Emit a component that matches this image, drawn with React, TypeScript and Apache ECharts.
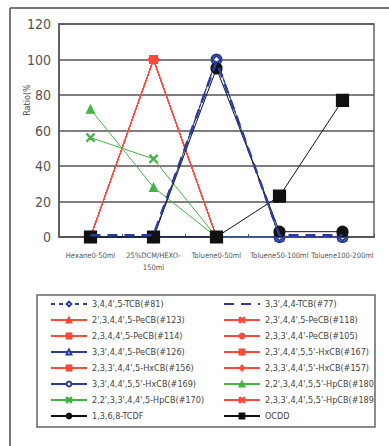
import React, { useEffect, useRef } from 'react';
import * as echarts from 'echarts';

const categories = ['Hexane0-50ml', '25%DCM/HEXO-\n150ml', 'Toluene0-50ml', 'Toluene50-100ml', 'Toluene100-200ml'];
const yTicks = [0, 20, 40, 60, 80, 100, 120];

const tcb81 = [0, 0, 100, 0, 0];
const tcb77 = [1, 1, 99, 1, 1];
const pecb123 = [0, 100, 0, 0, 0];
const pecb118 = [0, 100, 0, 0, 0];
const pecb114 = [0, 100, 0, 0, 0];
const pecb105 = [0, 100, 0, 0, 0];
const pecb126 = [0, 0, 0, 0, 0];
const hxcb167 = [0, 100, 0, 0, 0];
const hxcb156 = [0, 100, 0, 0, 0];
const hxcb157 = [0, 100, 0, 0, 0];
const hxcb169 = [0, 0, 100, 0, 0];
const hpcb180 = [72, 28, 0, 0, 0];
const hpcb170 = [56, 44, 0, 0, 0];
const hpcb189 = [0, 100, 0, 0, 0];
const tcdf = [0, 0, 95, 3, 3];
const ocdd = [0, 0, 0, 23, 77];

const leftLegend = [
  "3,4,4',5-TCB(#81)",
  "2',3,4,4',5-PeCB(#123)",
  "2,3,4,4',5-PeCB(#114)",
  "3,3',4,4',5-PeCB(#126)",
  "2,3,3',4,4',5-HxCB(#156)",
  "3,3',4,4',5,5'-HxCB(#169)",
  "2,2',3,3',4,4',5-HpCB(#170)",
  '1,3,6,8-TCDF',
];
const rightLegend = [
  "3,3',4,4-TCB(#77)",
  "2,3',4,4',5-PeCB(#118)",
  "2,3,3',4,4'-PeCB(#105)",
  "2,3',4,4',5,5'-HxCB(#167)",
  "2,3,3',4,4',5'-HxCB(#157)",
  "2,2',3,4,4',5,5'-HpCB(#180)",
  "2,3,3',4,4',5,5'-HpCB(#189)",
  'OCDD',
];

const RED = '#ff4a3a';
const BLUE = '#2a3c9e';
const GREEN = '#44b444';
const BLACK = '#111111';
const XSYM = 'path://M0,1L1,0L5,4L9,0L10,1L6,5L10,9L9,10L5,6L1,10L0,9L4,5Z';
const DASH = 'path://M0,0H10V3H0Z';
const FONT = '"Liberation Sans Narrow", "DejaVu Sans Condensed", "Liberation Sans", sans-serif';

export default function App() {
  const ref = useRef<HTMLDivElement>(null);
  useEffect(() => {
    if (!ref.current) return;
    const chart = echarts.init(ref.current, undefined, { renderer: 'svg' });
    const mk = (name: string, data: number[], color: string, symbol: string, size: any, extra: any = {}) => ({
      name,
      type: 'line',
      data,
      symbol,
      symbolSize: size,
      showSymbol: symbol !== 'none',
      itemStyle: { color, borderColor: color, borderWidth: 1.2 },
      lineStyle: { color, width: 1, ...(extra.lineStyle || {}) },
      z: extra.z || 2,
    });
    const series = [
      mk(leftLegend[1], pecb123, RED, 'triangle', 6),
      mk(rightLegend[1], pecb118, RED, XSYM, 6),
      mk(rightLegend[2], pecb105, RED, 'circle', 6),
      mk(rightLegend[3], hxcb167, RED, DASH, [5, 2]),
      mk(leftLegend[4], hxcb156, RED, DASH, [7, 2]),
      mk(rightLegend[4], hxcb157, RED, 'diamond', 6),
      mk(rightLegend[6], hpcb189, RED, XSYM, 7),
      mk(leftLegend[2], pecb114, RED, 'rect', 8),
      mk(rightLegend[5], hpcb180, GREEN, 'triangle', 8),
      mk(leftLegend[6], hpcb170, GREEN, XSYM, 8),
      mk(leftLegend[3], pecb126, BLUE, 'emptyTriangle', 7, { lineStyle: { width: 1.5 } }),
      mk(leftLegend[5], hxcb169, BLUE, 'emptyCircle', 10, { lineStyle: { width: 1 } }),
      mk(leftLegend[0], tcb81, BLUE, 'emptyDiamond', 8, { lineStyle: { type: [4, 4], width: 1.3 } }),
      mk(leftLegend[7], tcdf, BLACK, 'circle', 11),
      mk(rightLegend[7], ocdd, BLACK, 'rect', 12),
      mk(rightLegend[0], tcb77, BLUE, 'none', 1, { lineStyle: { type: [10, 7], width: 2.6 }, z: 3 }),
    ];
    const legendCommon = {
      orient: 'vertical',
      top: 298,
      padding: 0,
      itemWidth: 36,
      itemHeight: 6,
      itemGap: 4,
      selectedMode: false,
      textStyle: { fontSize: 9, lineHeight: 12, color: '#444', fontFamily: FONT, overflow: 'truncate', ellipsis: '' },
    };
    chart.setOption({
      animation: false,
      backgroundColor: '#ffffff',
      grid: { left: 59, right: 15, top: 24, bottom: 209, show: true, borderColor: '#666', borderWidth: 1.5 },
      xAxis: {
        type: 'category',
        data: categories,
        boundaryGap: true,
        axisLine: { lineStyle: { color: '#555', width: 1.5 } },
        axisTick: { show: true, inside: true, length: 3, lineStyle: { color: '#555' } },
        axisLabel: { fontSize: 7.5, color: '#555', margin: 12, lineHeight: 12, fontFamily: FONT, interval: 0 },
      },
      yAxis: {
        type: 'value',
        min: 0,
        max: 120,
        interval: 20,
        axisLine: { show: true, lineStyle: { color: '#555', width: 1.5 } },
        axisTick: { show: false },
        axisLabel: { fontSize: 14, color: '#555', margin: 8, fontFamily: FONT, formatter: (v: number) => (yTicks.includes(v) ? String(v) : '') },
        splitLine: { lineStyle: { color: '#555', width: 1.5 } },
      },
      legend: [
        { ...legendCommon, left: 50, data: leftLegend, textStyle: { ...legendCommon.textStyle, width: 125 } },
        {
          ...legendCommon,
          left: 223,
          textStyle: { ...legendCommon.textStyle, width: 110 },
          data: rightLegend.map((n, i) => (i === 0 ? { name: n, itemStyle: { color: 'rgba(0,0,0,0)', borderColor: 'rgba(0,0,0,0)' } } : n)),
        },
      ],
      graphic: [
        { type: 'line', shape: { x1: 10, y1: 8, x2: 389, y2: 8 }, style: { stroke: '#777', lineWidth: 2 } },
        { type: 'line', shape: { x1: 10, y1: 8, x2: 10, y2: 446 }, style: { stroke: '#777', lineWidth: 2 } },
        { type: 'rect', shape: { x: 37, y: 295, width: 338, height: 132 }, style: { fill: 'none', stroke: '#666', lineWidth: 1.5 } },
        {
          type: 'text', x: 27, y: 100, rotation: Math.PI / 2,
          style: { text: 'Ratio(%', fontSize: 9, fill: '#444', fontFamily: FONT, align: 'center', verticalAlign: 'middle' },
        },
      ],
      series,
    });
    return () => chart.dispose();
  }, []);
  return <div ref={ref} style={{ position: 'fixed', left: 0, top: 0, width: 389, height: 446 }} />;
}
